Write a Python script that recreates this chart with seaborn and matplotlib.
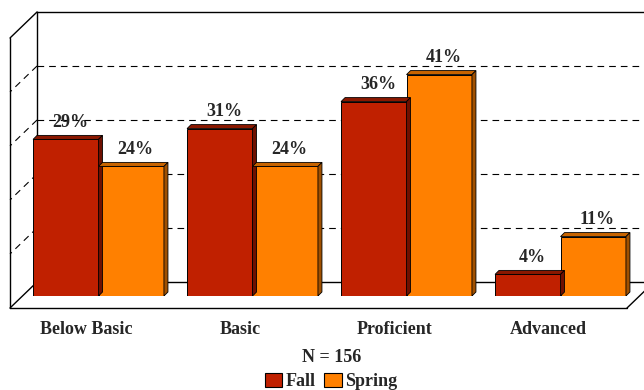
import matplotlib
matplotlib.use("Agg")
import matplotlib.pyplot as plt
from matplotlib.lines import Line2D
from matplotlib.patches import Patch, Polygon
import pandas as pd
import seaborn as sns

# data
levels = ["Below Basic", "Basic", "Proficient", "Advanced"]
fall = [29, 31, 36, 4]
spring = [24, 24, 41, 11]
seasons = ["Fall", "Spring"]
grid_levels = [10, 20, 30, 40]

FALL_C = "#C02000"
SPRING_C = "#FF8000"
TOP_C = {"Fall": "#8A1800", "Spring": "#C86400"}
SIDE_C = {"Fall": "#6E1000", "Spring": "#A05000"}

W, H = 644, 390
DEPTH = (27, 26)      # wall depth in pixels (right, up)
BAR_D = 4             # bar depth in pixels


def fx(x):
    return x / W


def fy(y):
    return 1 - y / H


df = pd.DataFrame({
    "level": levels * 2,
    "season": ["Fall"] * len(levels) + ["Spring"] * len(levels),
    "pct": fall + spring,
})

sns.set_style("white")
plt.rcParams["font.family"] = ["Liberation Serif", "DejaVu Serif"]
plt.rcParams["font.weight"] = "bold"
FS = 13

fig = plt.figure(figsize=(W / 100, H / 100), dpi=100)

# back wall
back = fig.add_axes([fx(37), fy(282), (660 - 37) / W, 270 / H])
back.set_zorder(0)
back.set_xlim(0, 1)
back.set_ylim(0, 50)
back.set_yticks(grid_levels)
back.set_xticks([])
back.tick_params(left=False, labelleft=False)
back.grid(axis="y", color="black", lw=0.8, linestyle=(0, (6, 4.5)))
for side in ["top", "left", "bottom"]:
    back.spines[side].set_visible(True)
    back.spines[side].set_color("black")
    back.spines[side].set_linewidth(1.0)
back.spines["right"].set_visible(False)

# left wall and floor outline
def wall_line(x0, y0, x1, y1, **kw):
    fig.add_artist(Line2D([fx(x0), fx(x1)], [fy(y0), fy(y1)],
                          transform=fig.transFigure, color="black",
                          zorder=1, **kw))

bx, by_top, by_bot = 37, 12, 282
ox, oy = bx - DEPTH[0], DEPTH[1]
wall_line(bx, by_top, ox, by_top + oy, lw=1.0)
wall_line(ox, by_top + oy, ox, by_bot + oy, lw=1.0)
wall_line(bx, by_bot, ox, by_bot + oy, lw=1.0)
for g in grid_levels:
    yy = H - back.transData.transform((0, g))[1]
    wall_line(bx, yy, ox, yy + oy, lw=0.8, linestyle=(0, (6, 4.5)))
wall_line(ox, by_bot + oy, 627, by_bot + oy, lw=1.0)
wall_line(627, by_bot + oy, 627 + DEPTH[0], by_bot + oy - DEPTH[1], lw=1.0)

# bars
ax = fig.add_axes([fx(21.5), fy(296), 616 / W, 270 / H])
ax.set_zorder(3)
ax.patch.set_alpha(0)
sns.barplot(data=df, x="level", y="pct", hue="season", hue_order=seasons,
            palette=[FALL_C, SPRING_C], saturation=1, width=0.85, gap=0,
            dodge=True, edgecolor="black", linewidth=0.7, legend=False, ax=ax)
ax.set_xlim(-0.5, 3.5)
ax.set_ylim(0, 50)
ax.set_xlabel("")
ax.set_ylabel("")
ax.set_xticks([])
ax.set_yticks([])
for s in ax.spines.values():
    s.set_visible(False)

fig.canvas.draw()
for season, cont in zip(seasons, ax.containers):
    for bar in cont:
        x0, y0 = ax.transData.transform((bar.get_x(), 0))
        x1, y1 = ax.transData.transform((bar.get_x() + bar.get_width(),
                                         bar.get_height()))
        top = Polygon([(x0, y1), (x1, y1), (x1 + BAR_D, y1 + BAR_D),
                       (x0 + BAR_D, y1 + BAR_D)], closed=True,
                      transform=None, fc=TOP_C[season], ec="black", lw=0.6,
                      zorder=1)
        side = Polygon([(x1, y0), (x1, y1), (x1 + BAR_D, y1 + BAR_D),
                        (x1 + BAR_D, y0 + BAR_D)], closed=True,
                       transform=None, fc=SIDE_C[season], ec="black", lw=0.6,
                       zorder=1)
        ax.add_artist(top)
        ax.add_artist(side)
    for bar, v in zip(cont, fall if season == "Fall" else spring):
        ax.annotate(f"{v}%", (bar.get_x() + bar.get_width() / 2, v),
                    xytext=(3, 6), textcoords="offset points",
                    ha="center", va="bottom", fontsize=FS, fontweight="bold")

for i, lab in enumerate(levels):
    ax.annotate(lab, (i, 0), xycoords=ax.get_xaxis_transform(),
                xytext=(-12 * 0.72, -25 * 0.72), textcoords="offset points",
                ha="center", va="top", fontsize=FS, fontweight="bold")

fig.text(fx(332), fy(357), "N = 156", ha="center", va="center",
         fontsize=FS, fontweight="bold")

handles = [Patch(fc=FALL_C, ec="black", lw=0.8, label="Fall"),
           Patch(fc=SPRING_C, ec="black", lw=0.8, label="Spring")]
fig.legend(handles=handles, loc="upper center",
           bbox_to_anchor=(fx(331), fy(364)), ncol=2, frameon=False,
           handlelength=0.95, handleheight=0.85, handletextpad=0.2,
           columnspacing=0.5, borderpad=0,
           prop={"size": FS, "weight": "bold"})

fig.savefig("out.png", dpi=100)
